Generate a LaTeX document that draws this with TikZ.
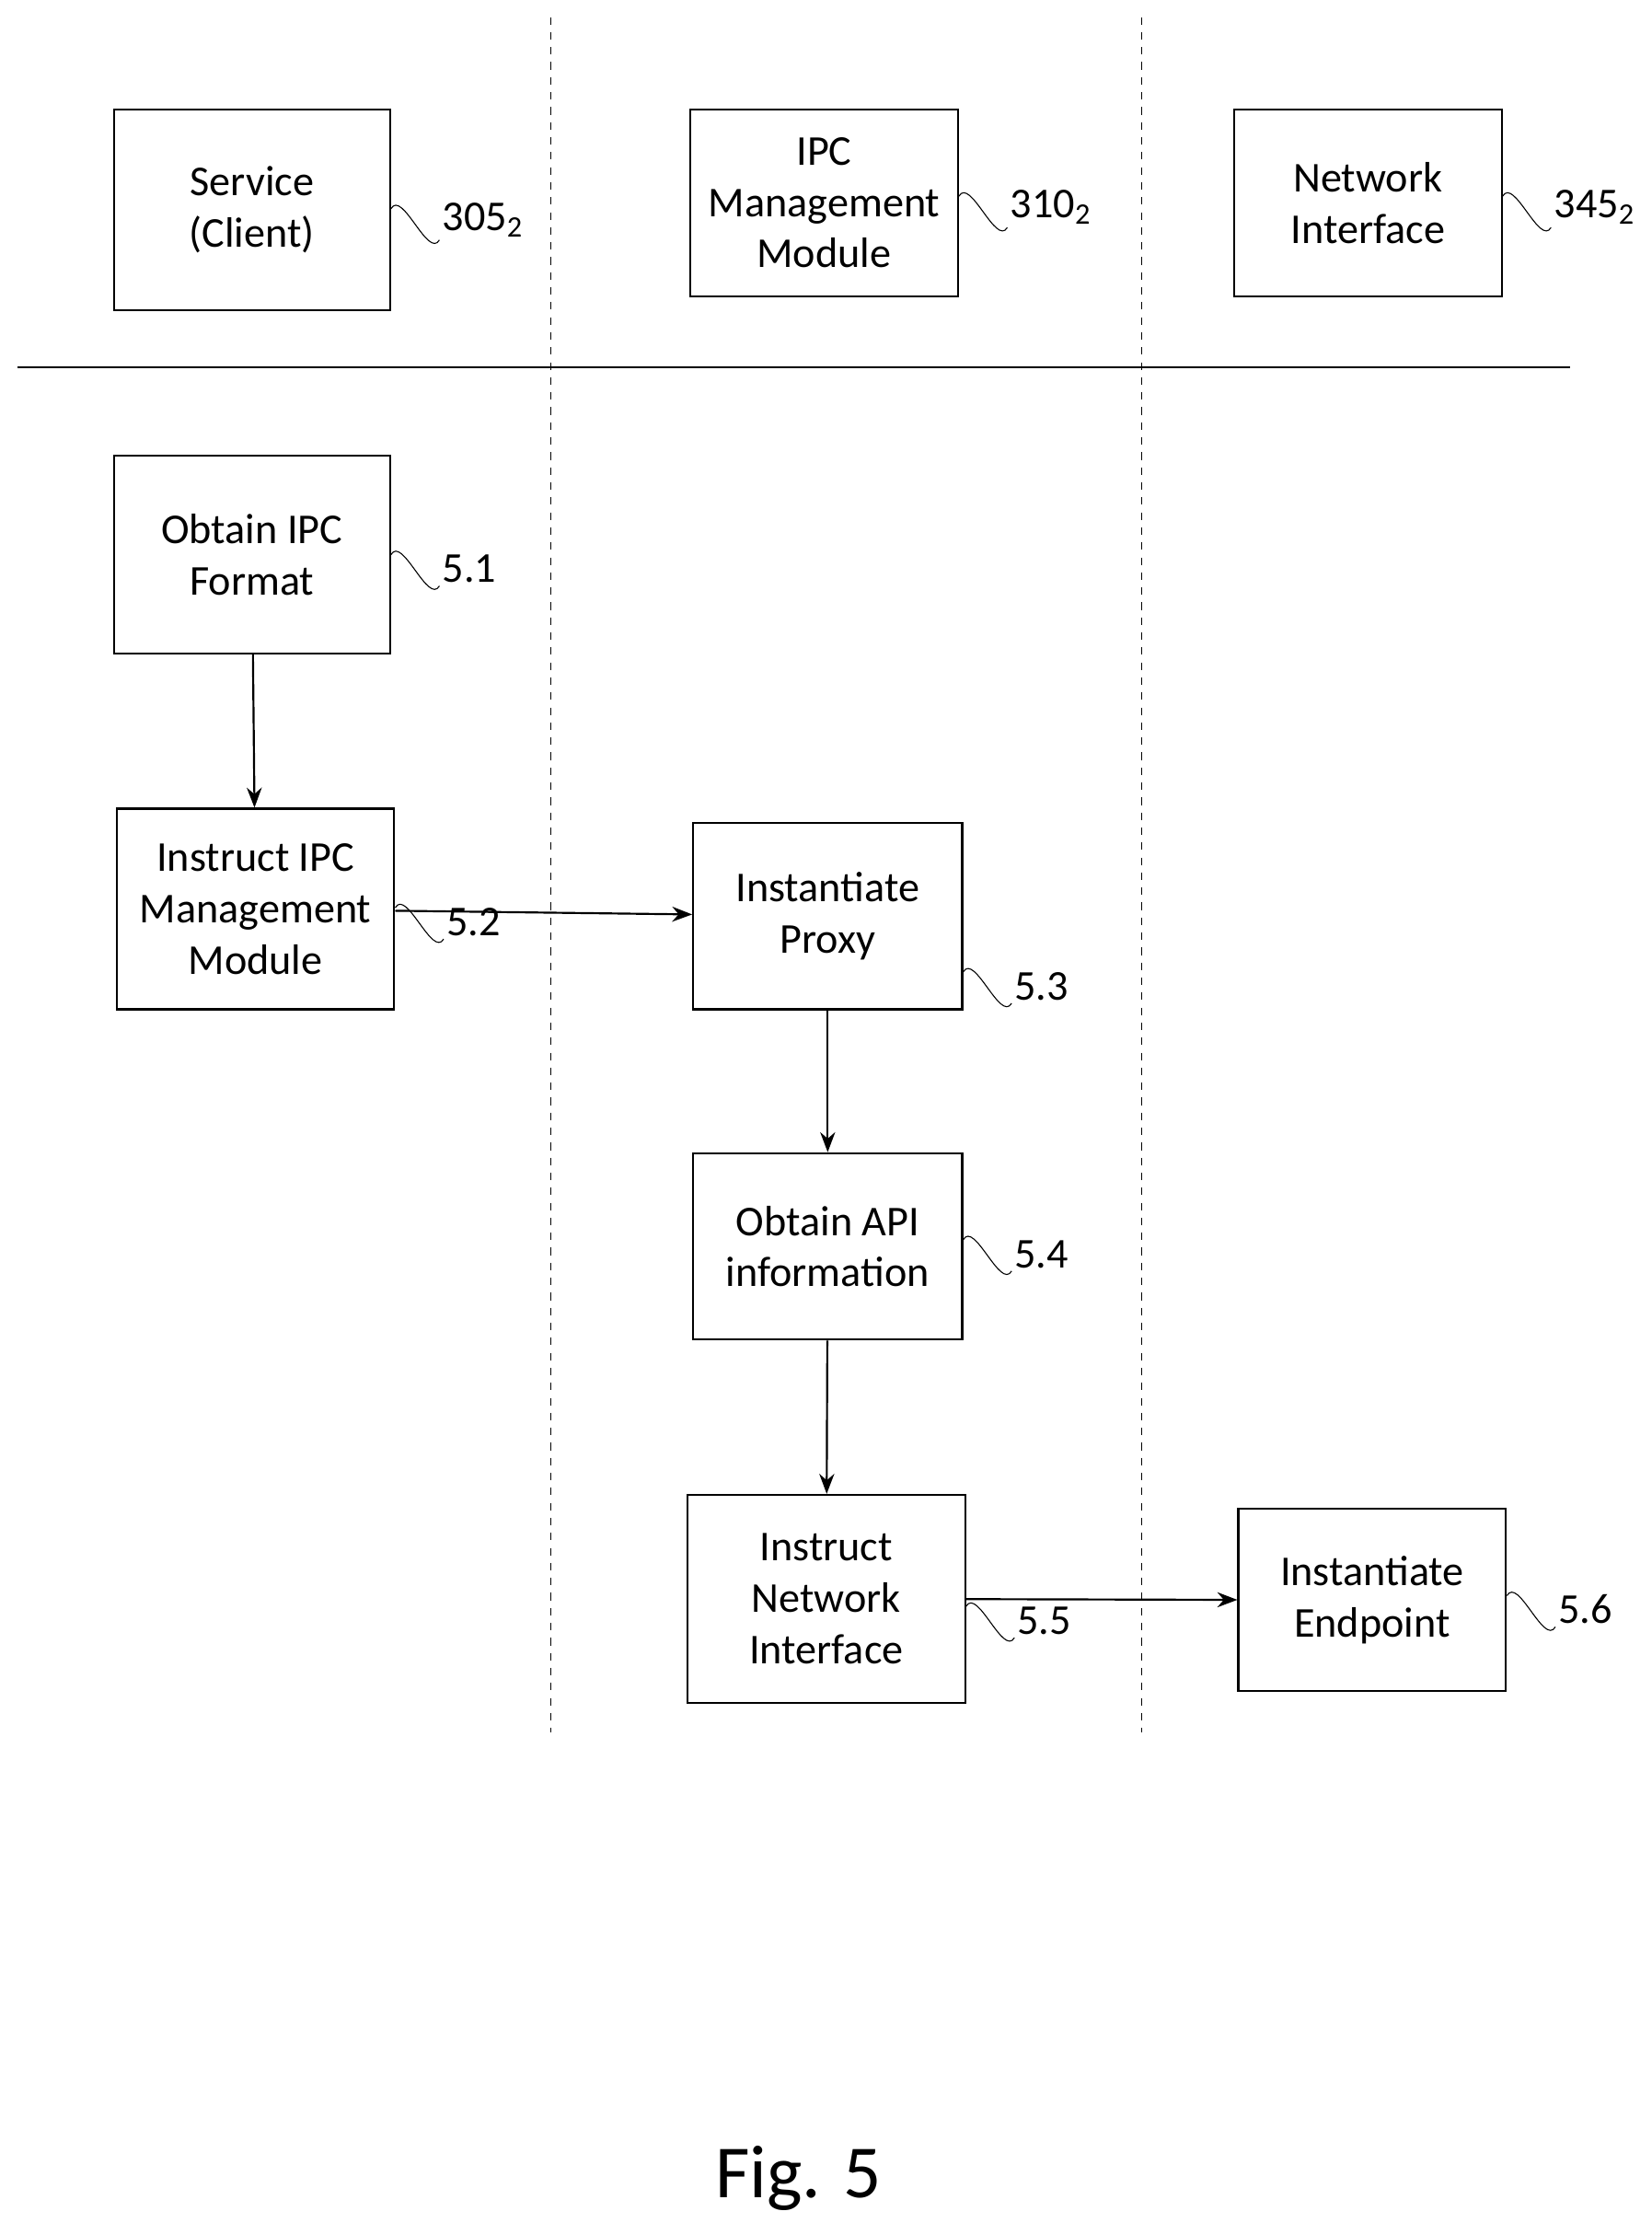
\documentclass[tikz,border=0pt]{standalone}
\usepackage{fontspec}
\setmainfont{Carlito}
\usetikzlibrary{arrows.meta,positioning}

\tikzset{
     stepbox/.style={draw, thick, align=center, inner sep=0pt, font=\fontsize{17}{20.5}\selectfont},
     flow/.style={thick, -{Stealth[length=8pt,width=6pt]}},
     lane/.style={dashed, thin},
     numlabel/.style={anchor=south west, inner sep=1pt, font=\fontsize{17}{20}\selectfont}}

% squiggle from the box to its reference number
\newcommand{\refmark}[3]{%
  \draw[thin] ([yshift=-#3]#1.north east) to[out=60,in=240] ++(34,22) node[numlabel] {#2};}

\begin{document}
\begin{tikzpicture}[x=0.02cm, y=-0.02cm]
\useasboundingbox (0,0) rectangle (1160,1561.5);

% The lanes
\draw[lane] (387,12) -- (387,1217);
\draw[lane] (802,12) -- (802,1217);
\draw[thin] (12,258) -- (1103,258);

% The heads
\node (client) [stepbox, minimum width=194*0.02cm, minimum height=141*0.02cm] at (177,147.5) {Service\\(Client)};
\node (ipcmod) [stepbox, minimum width=188*0.02cm, minimum height=131*0.02cm] at (579,142.5) {IPC\\Management\\Module};
\node (netif)  [stepbox, minimum width=188*0.02cm, minimum height=131*0.02cm] at (961,142.5) {Network\\Interface};

\refmark{client}{305\textsubscript{2}}{40}
\refmark{ipcmod}{310\textsubscript{2}}{35}
\refmark{netif}{345\textsubscript{2}}{35}

% The steps
\node (s1) [stepbox, minimum width=194*0.02cm, minimum height=139*0.02cm] at (177,389.5) {Obtain IPC\\Format};
\node (s2) [stepbox, minimum width=195*0.02cm, minimum height=141*0.02cm] at (179.5,638.5) {Instruct IPC\\Management\\Module};
\node (s3) [stepbox, minimum width=189*0.02cm, minimum height=131*0.02cm] at (581.5,643.5) {Instantiate\\Proxy};
\node (s4) [stepbox, minimum width=189*0.02cm, minimum height=131*0.02cm] at (581.5,875.5) {Obtain API\\information};
\node (s5) [stepbox, minimum width=195*0.02cm, minimum height=146*0.02cm] at (580.5,1123) {Instruct\\Network\\Interface};
\node (s6) [stepbox, minimum width=188*0.02cm, minimum height=128*0.02cm] at (964,1124) {Instantiate\\Endpoint};

\refmark{s1}{5.1}{40}
\refmark{s2}{5.2}{40}
\refmark{s3}{5.3}{60}
\refmark{s4}{5.4}{35}
\refmark{s5}{5.5}{45}
\refmark{s6}{5.6}{35}

% The arrows
\draw[flow] (s1) -- (s2);
\draw[flow] (s2) -- (s3);
\draw[flow] (s3) -- (s4);
\draw[flow] (s4) -- (s5);
\draw[flow] (s5) -- (s6);

\node (caption) [font=\fontsize{30}{36}\selectfont] at (561,1530) {Fig. 5};
\end{tikzpicture}
\end{document}
